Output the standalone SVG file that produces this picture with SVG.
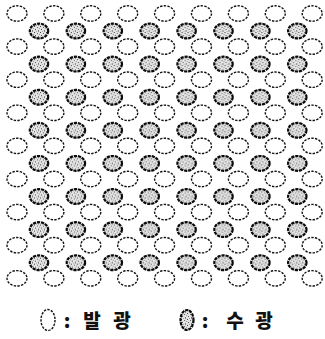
<svg xmlns="http://www.w3.org/2000/svg" xmlns:xlink="http://www.w3.org/1999/xlink" width="325" height="339" viewBox="0 0 325 339">
<style>
.em{fill:none;stroke:#111;stroke-width:1.4;stroke-dasharray:2.4 1.3}
.rc{fill:url(#spk);stroke:#0a0a0a;stroke-width:2.2;stroke-dasharray:3.2 0.9}
.lb{font-family:"Noto Sans CJK KR","Noto Sans",sans-serif;font-weight:900;font-size:19px;fill:#111;text-anchor:middle}
</style>
<defs>
<pattern id="spk" width="6" height="6" patternUnits="userSpaceOnUse">
<rect width="6" height="6" fill="#e4e4e4"/>
<rect x="1" y="1" width="1" height="1" fill="#444"/>
<rect x="4" y="2" width="1" height="1" fill="#666"/>
<rect x="2" y="4" width="1" height="1" fill="#555"/>
<rect x="5" y="0" width="1" height="1" fill="#888"/>
<rect x="5" y="5" width="1" height="1" fill="#777"/>
<rect x="0" y="3" width="1" height="1" fill="#999"/>
<rect x="3" y="0" width="1" height="1" fill="#aaa"/>
</pattern>
<ellipse id="e" cx="0" cy="0" rx="10" ry="7.7" class="em"/>
<ellipse id="r" cx="0" cy="0" rx="9.2" ry="7.4" class="rc"/>
</defs>
<rect width="325" height="339" fill="#fff"/>
<g id="emit-rows">
<g id="er1"><use href="#e" x="17" y="13.5"/><use href="#e" x="53.9" y="13.5"/><use href="#e" x="90.8" y="13.5"/><use href="#e" x="127.7" y="13.5"/><use href="#e" x="164.6" y="13.5"/><use href="#e" x="201.5" y="13.5"/><use href="#e" x="238.4" y="13.5"/><use href="#e" x="275.3" y="13.5"/><use href="#e" x="312.2" y="13.5"/></g>
<g id="er2"><use href="#e" x="17" y="46.6"/><use href="#e" x="53.9" y="46.6"/><use href="#e" x="90.8" y="46.6"/><use href="#e" x="127.7" y="46.6"/><use href="#e" x="164.6" y="46.6"/><use href="#e" x="201.5" y="46.6"/><use href="#e" x="238.4" y="46.6"/><use href="#e" x="275.3" y="46.6"/><use href="#e" x="312.2" y="46.6"/></g>
<g id="er3"><use href="#e" x="17" y="79.7"/><use href="#e" x="53.9" y="79.7"/><use href="#e" x="90.8" y="79.7"/><use href="#e" x="127.7" y="79.7"/><use href="#e" x="164.6" y="79.7"/><use href="#e" x="201.5" y="79.7"/><use href="#e" x="238.4" y="79.7"/><use href="#e" x="275.3" y="79.7"/><use href="#e" x="312.2" y="79.7"/></g>
<g id="er4"><use href="#e" x="17" y="112.8"/><use href="#e" x="53.9" y="112.8"/><use href="#e" x="90.8" y="112.8"/><use href="#e" x="127.7" y="112.8"/><use href="#e" x="164.6" y="112.8"/><use href="#e" x="201.5" y="112.8"/><use href="#e" x="238.4" y="112.8"/><use href="#e" x="275.3" y="112.8"/><use href="#e" x="312.2" y="112.8"/></g>
<g id="er5"><use href="#e" x="17" y="145.9"/><use href="#e" x="53.9" y="145.9"/><use href="#e" x="90.8" y="145.9"/><use href="#e" x="127.7" y="145.9"/><use href="#e" x="164.6" y="145.9"/><use href="#e" x="201.5" y="145.9"/><use href="#e" x="238.4" y="145.9"/><use href="#e" x="275.3" y="145.9"/><use href="#e" x="312.2" y="145.9"/></g>
<g id="er6"><use href="#e" x="17" y="179"/><use href="#e" x="53.9" y="179"/><use href="#e" x="90.8" y="179"/><use href="#e" x="127.7" y="179"/><use href="#e" x="164.6" y="179"/><use href="#e" x="201.5" y="179"/><use href="#e" x="238.4" y="179"/><use href="#e" x="275.3" y="179"/><use href="#e" x="312.2" y="179"/></g>
<g id="er7"><use href="#e" x="17" y="212.1"/><use href="#e" x="53.9" y="212.1"/><use href="#e" x="90.8" y="212.1"/><use href="#e" x="127.7" y="212.1"/><use href="#e" x="164.6" y="212.1"/><use href="#e" x="201.5" y="212.1"/><use href="#e" x="238.4" y="212.1"/><use href="#e" x="275.3" y="212.1"/><use href="#e" x="312.2" y="212.1"/></g>
<g id="er8"><use href="#e" x="17" y="245.2"/><use href="#e" x="53.9" y="245.2"/><use href="#e" x="90.8" y="245.2"/><use href="#e" x="127.7" y="245.2"/><use href="#e" x="164.6" y="245.2"/><use href="#e" x="201.5" y="245.2"/><use href="#e" x="238.4" y="245.2"/><use href="#e" x="275.3" y="245.2"/><use href="#e" x="312.2" y="245.2"/></g>
<g id="er9"><use href="#e" x="17" y="278.3"/><use href="#e" x="53.9" y="278.3"/><use href="#e" x="90.8" y="278.3"/><use href="#e" x="127.7" y="278.3"/><use href="#e" x="164.6" y="278.3"/><use href="#e" x="201.5" y="278.3"/><use href="#e" x="238.4" y="278.3"/><use href="#e" x="275.3" y="278.3"/><use href="#e" x="312.2" y="278.3"/></g>
</g>
<g id="receive-rows">
<g id="rr1"><use href="#r" x="39" y="31"/><use href="#r" x="75.9" y="31"/><use href="#r" x="112.8" y="31"/><use href="#r" x="149.7" y="31"/><use href="#r" x="186.6" y="31"/><use href="#r" x="223.5" y="31"/><use href="#r" x="260.4" y="31"/><use href="#r" x="297.3" y="31"/></g>
<g id="rr2"><use href="#r" x="39" y="64.1"/><use href="#r" x="75.9" y="64.1"/><use href="#r" x="112.8" y="64.1"/><use href="#r" x="149.7" y="64.1"/><use href="#r" x="186.6" y="64.1"/><use href="#r" x="223.5" y="64.1"/><use href="#r" x="260.4" y="64.1"/><use href="#r" x="297.3" y="64.1"/></g>
<g id="rr3"><use href="#r" x="39" y="97.2"/><use href="#r" x="75.9" y="97.2"/><use href="#r" x="112.8" y="97.2"/><use href="#r" x="149.7" y="97.2"/><use href="#r" x="186.6" y="97.2"/><use href="#r" x="223.5" y="97.2"/><use href="#r" x="260.4" y="97.2"/><use href="#r" x="297.3" y="97.2"/></g>
<g id="rr4"><use href="#r" x="39" y="130.3"/><use href="#r" x="75.9" y="130.3"/><use href="#r" x="112.8" y="130.3"/><use href="#r" x="149.7" y="130.3"/><use href="#r" x="186.6" y="130.3"/><use href="#r" x="223.5" y="130.3"/><use href="#r" x="260.4" y="130.3"/><use href="#r" x="297.3" y="130.3"/></g>
<g id="rr5"><use href="#r" x="39" y="163.4"/><use href="#r" x="75.9" y="163.4"/><use href="#r" x="112.8" y="163.4"/><use href="#r" x="149.7" y="163.4"/><use href="#r" x="186.6" y="163.4"/><use href="#r" x="223.5" y="163.4"/><use href="#r" x="260.4" y="163.4"/><use href="#r" x="297.3" y="163.4"/></g>
<g id="rr6"><use href="#r" x="39" y="196.5"/><use href="#r" x="75.9" y="196.5"/><use href="#r" x="112.8" y="196.5"/><use href="#r" x="149.7" y="196.5"/><use href="#r" x="186.6" y="196.5"/><use href="#r" x="223.5" y="196.5"/><use href="#r" x="260.4" y="196.5"/><use href="#r" x="297.3" y="196.5"/></g>
<g id="rr7"><use href="#r" x="39" y="229.6"/><use href="#r" x="75.9" y="229.6"/><use href="#r" x="112.8" y="229.6"/><use href="#r" x="149.7" y="229.6"/><use href="#r" x="186.6" y="229.6"/><use href="#r" x="223.5" y="229.6"/><use href="#r" x="260.4" y="229.6"/><use href="#r" x="297.3" y="229.6"/></g>
<g id="rr8"><use href="#r" x="39" y="262.7"/><use href="#r" x="75.9" y="262.7"/><use href="#r" x="112.8" y="262.7"/><use href="#r" x="149.7" y="262.7"/><use href="#r" x="186.6" y="262.7"/><use href="#r" x="223.5" y="262.7"/><use href="#r" x="260.4" y="262.7"/><use href="#r" x="297.3" y="262.7"/></g>
</g>
<g id="legend">
<g id="legend-emit">
<ellipse cx="48" cy="320" rx="7" ry="10.5" class="em" stroke-width="1"/>
<text class="lb" x="67 79 92 107 122" y="328">: 발 광</text>
</g>
<g id="legend-receive">
<ellipse cx="187" cy="320" rx="6.5" ry="10" class="rc" stroke-width="1.6"/>
<text class="lb" x="205 220 235 250 264" y="328">: 수 광</text>
</g>
</g>
</svg>
